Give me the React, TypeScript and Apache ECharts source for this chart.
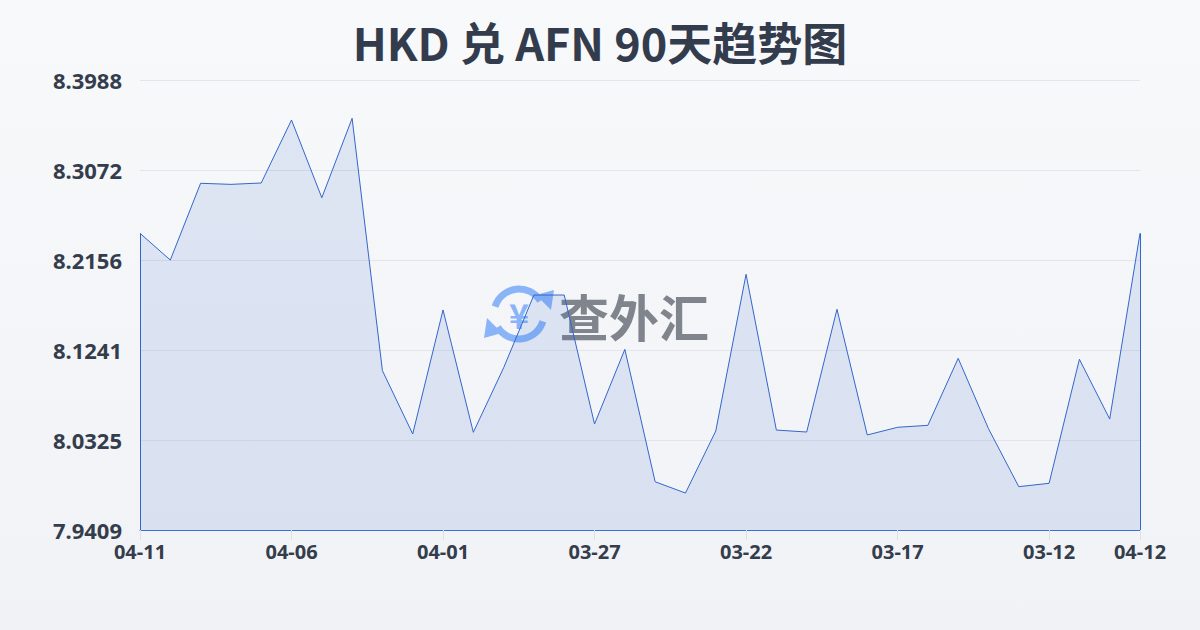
import React, { useEffect, useRef } from "react";
import * as echarts from "echarts";

const title = "HKD 兑 AFN 90天趋势图";

const dates = [
  "04-11", "04-10", "04-09", "04-08", "04-07", "04-06", "04-05", "04-04", "04-03", "04-02",
  "04-01", "03-31", "03-30", "03-29", "03-28", "03-27", "03-26", "03-25", "03-24", "03-23",
  "03-22", "03-21", "03-20", "03-19", "03-18", "03-17", "03-16", "03-15", "03-14", "03-13",
  "03-12", "03-11", "03-10", "04-12",
];

const rates = [
  8.2428, 8.2156, 8.2937, 8.2926, 8.294, 8.3581, 8.279, 8.3598, 8.103, 8.0386,
  8.1648, 8.0403, 8.106, 8.18, 8.18, 8.0487, 8.1247, 7.99, 7.9785, 8.0416,
  8.2011, 8.0426, 8.0406, 8.1655, 8.0376, 8.0454, 8.0474, 8.1156, 8.044, 7.985,
  7.9884, 8.1146, 8.0538, 8.2428,
];

const yMin = 7.9409;
const yMax = 8.3988;
const ySteps = 5;

const labelIndices = [0, 5, 10, 15, 20, 25, 30, 33];

export default function App() {
  const ref = useRef<HTMLDivElement>(null);

  useEffect(() => {
    if (!ref.current) return;
    const chart = echarts.init(ref.current, null, { renderer: "svg" });
    const last = rates.length - 1;
    const showIdx = (i: number) => labelIndices.indexOf(i) >= 0;
    const blue = "#8ab4f8";
    const cx = 519;
    const cy = 314;
    const r = 25;

    chart.setOption({
      animation: false,
      backgroundColor: {
        type: "linear",
        x: 0,
        y: 0,
        x2: 0,
        y2: 1,
        colorStops: [
          { offset: 0, color: "#f8f9fb" },
          { offset: 1, color: "#f1f2f5" },
        ],
      },
      title: {
        text: title,
        left: "center",
        top: 14,
        textStyle: {
          fontSize: 45,
          fontWeight: "bold",
          color: "#333c4c",
          fontFamily: "'Noto Sans CJK SC', 'Noto Sans', sans-serif",
        },
      },
      grid: { left: 140, right: 60, top: 80, bottom: 100 },
      graphic: [
        {
          type: "arc",
          z: 0,
          shape: { cx, cy, r, startAngle: Math.PI + 0.3, endAngle: 2 * Math.PI - 0.55, clockwise: true },
          style: { stroke: blue, lineWidth: 7, fill: "none" },
        },
        {
          type: "arc",
          z: 0,
          shape: { cx, cy, r, startAngle: 0.3, endAngle: Math.PI - 0.55, clockwise: true },
          style: { stroke: blue, lineWidth: 7, fill: "none" },
        },
        {
          type: "polygon",
          z: 0,
          shape: { points: [[536, 295], [554, 290], [551, 310]] },
          style: { fill: blue },
        },
        {
          type: "polygon",
          z: 0,
          shape: { points: [[502, 333], [484, 338], [487, 318]] },
          style: { fill: blue },
        },
        {
          type: "text",
          z: 0,
          x: cx,
          y: cy,
          style: {
            text: "¥",
            fill: blue,
            font: "bold 34px 'Noto Sans CJK SC', sans-serif",
            align: "center",
            verticalAlign: "middle",
          },
        },
        {
          type: "text",
          z: 0,
          x: 559,
          y: 315,
          style: {
            text: "查外汇",
            fill: "#80848c",
            font: "bold 50px 'Noto Sans CJK SC', sans-serif",
            align: "left",
            verticalAlign: "middle",
          },
        },
      ],
      xAxis: {
        type: "category",
        data: dates,
        boundaryGap: false,
        axisLine: { show: true, lineStyle: { color: "#3a6fd4", width: 1 } },
        axisTick: {
          show: true,
          interval: (i: number) => showIdx(i),
          length: 10,
          lineStyle: { color: "#dde1e6" },
        },
        axisLabel: {
          interval: (i: number) => showIdx(i),
          margin: 11,
          fontSize: 20,
          fontWeight: "bold",
          color: "#343d4c",
          fontFamily: "'Noto Sans', sans-serif",
          hideOverlap: false,
        },
        splitLine: { show: false },
      },
      yAxis: [
        {
          type: "value",
          min: yMin,
          max: yMax,
          show: false,
          splitLine: { show: false },
        },
        {
          type: "value",
          min: 0,
          max: ySteps,
          interval: 1,
          position: "left",
          axisLine: { show: false },
          axisTick: { show: false },
          axisLabel: {
            margin: 18,
            fontSize: 22,
            fontWeight: "bold",
            color: "#343d4c",
            fontFamily: "'Noto Sans', sans-serif",
            formatter: (v: number) => (yMin + ((yMax - yMin) * v) / ySteps).toFixed(4),
          },
          splitLine: { show: true, lineStyle: { color: "#e2e5ea", width: 1 } },
        },
      ],
      series: [
        {
          type: "line",
          yAxisIndex: 0,
          data: rates,
          symbol: "none",
          z: 3,
          lineStyle: { color: "#3366cc", width: 1 },
          areaStyle: { color: "rgba(58,111,212,0.19)", origin: "start" },
          markLine: {
            silent: true,
            symbol: "none",
            label: { show: false },
            lineStyle: { color: "#3366cc", width: 1, type: "solid" },
            data: [
              [{ coord: [0, yMin] }, { coord: [0, rates[0]] }],
              [{ coord: [last, yMin] }, { coord: [last, rates[last]] }],
            ],
          },
        },
      ],
    });
    return () => chart.dispose();
  }, []);

  return (
    <div
      ref={ref}
      style={{ position: "fixed", left: 0, top: 0, width: 1200, height: 630 }}
    />
  );
}
